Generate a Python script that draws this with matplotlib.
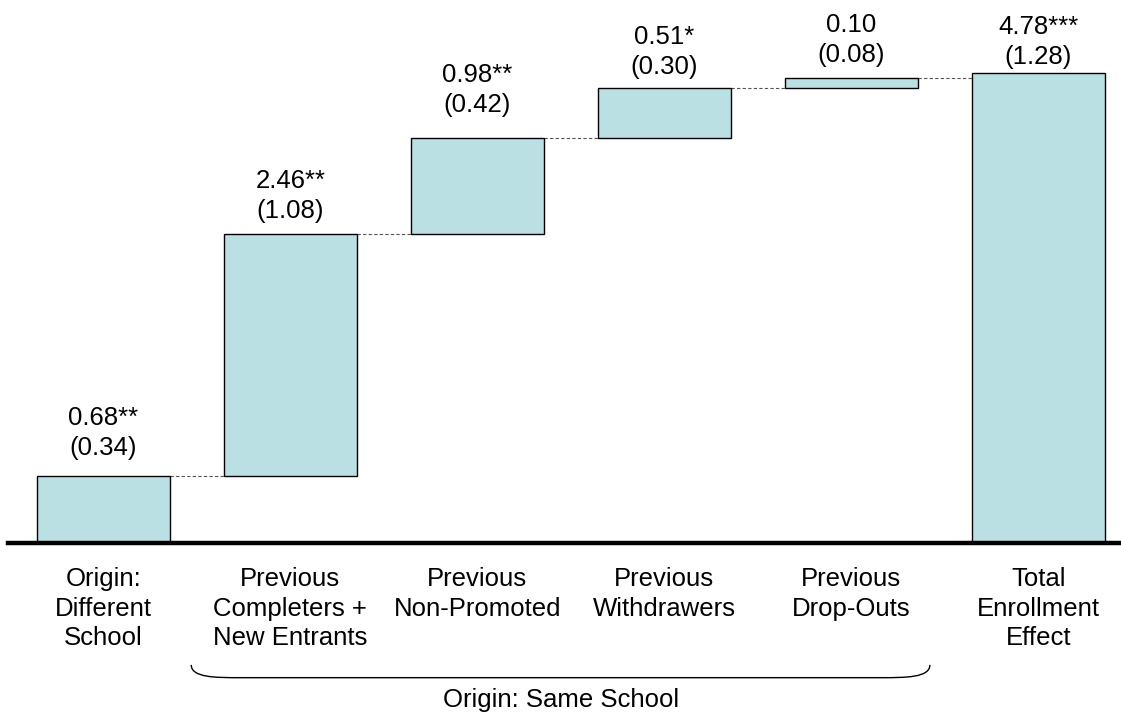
import matplotlib
matplotlib.use("Agg")
import matplotlib.pyplot as plt
from matplotlib.path import Path
from matplotlib.patches import PathPatch

plt.rcParams['font.family'] = ['Liberation Sans', 'DejaVu Sans']

categories = ["Origin:\nDifferent\nSchool",
              "Previous\nCompleters +\nNew Entrants",
              "Previous\nNon-Promoted",
              "Previous\nWithdrawers",
              "Previous\nDrop-Outs",
              "Total\nEnrollment\nEffect"]
effects = [0.68, 2.46, 0.98, 0.51, 0.10]
total = 4.78
coef_labels = ["0.68**", "2.46**", "0.98**", "0.51*", "0.10", "4.78***"]
se_labels = ["(0.34)", "(1.08)", "(0.42)", "(0.30)", "(0.08)", "(1.28)"]
group_label = "Origin: Same School"

# layout: gap (px) between bar top and centre of the lower label line
label_gap_px = [30, 26, 35, 23, 25, 18]
line_px = 30.0
half_digit_px = 9.2
px2pt = 0.72

fill = "#BBE0E3"
fs = 18.5

fig = plt.figure(figsize=(11.21, 7.18), dpi=100)
ax = fig.add_axes([8/1121, 175/718, 1113/1121, 531/718])
ax.set_xlim(-0.51, 5.442)
ax.set_ylim(0, 531/98.3)
ax.axis('off')

width = 0.713
bottoms = []
cum = 0.0
for v in effects:
    bottoms.append(cum)
    cum += v
heights = effects + [total]
bottoms = bottoms + [0.0]
xs = list(range(len(heights)))

ax.bar(xs, heights, bottom=bottoms, width=width, color=fill,
       edgecolor='black', linewidth=1.0, zorder=2)

# dashed connectors
tops = [b + h for b, h in zip(bottoms, heights)]
for i in range(len(heights) - 1):
    ax.plot([i + width/2, i + 1 - width/2], [tops[i], tops[i]],
            color='#555555', linestyle=(0, (3, 2)), linewidth=0.8, zorder=1)

# baseline
ax.axhline(0, color='black', linewidth=3.2, zorder=3, clip_on=False)

# value labels (two lines each)
for i in xs:
    base2 = label_gap_px[i] - half_digit_px
    base1 = base2 + line_px
    ax.annotate(se_labels[i], xy=(i, tops[i]), xytext=(0, base2 * px2pt),
                textcoords='offset points', ha='center', va='baseline',
                fontsize=fs)
    ax.annotate(coef_labels[i], xy=(i, tops[i]), xytext=(0, base1 * px2pt),
                textcoords='offset points', ha='center', va='baseline',
                fontsize=fs)

# category labels
for i in xs:
    ax.annotate(categories[i], xy=(i, 0), xytext=(0, -17.5),
                textcoords='offset points', ha='center', va='top',
                fontsize=fs, linespacing=1.29, annotation_clip=False)

# brace under middle categories
x0, x1 = 0.47, 4.42
ytop, ybot = -1.24, -1.37
dx = 0.13
verts = [(x0, ytop), (x0, ybot), (x0 + dx, ybot), (x0 + 2*dx, ybot),
         (x1 - 2*dx, ybot),
         (x1 - dx, ybot), (x1, ybot), (x1, ytop)]
codes = [Path.MOVETO, Path.CURVE4, Path.CURVE4, Path.CURVE4,
         Path.LINETO,
         Path.CURVE4, Path.CURVE4, Path.CURVE4]
ax.add_patch(PathPatch(Path(verts, codes), facecolor='none',
                       edgecolor='black', linewidth=1.0, clip_on=False))
ax.text((x0 + x1) / 2, -1.60, group_label, ha='center', va='center',
        fontsize=fs, clip_on=False)

fig.savefig("out.png", dpi=100)
